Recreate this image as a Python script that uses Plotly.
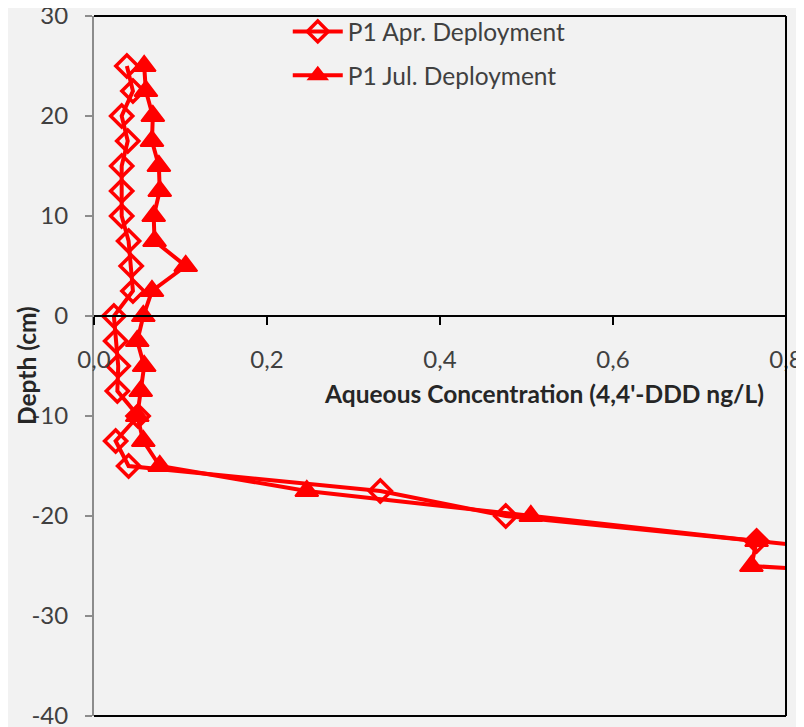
import plotly.graph_objects as go

# Depth (cm) of each sample
depth_apr = [25, 22.5, 20, 17.5, 15, 12.5, 10, 7.5, 5, 2.5, 0, -2.5, -5, -7.5, -10, -12.5, -15, -17.5, -20, -22.5, -25]
conc_apr = [0.038, 0.045, 0.032, 0.039, 0.032, 0.032, 0.032, 0.040, 0.043, 0.045, 0.023, 0.025, 0.028, 0.027,
            0.051, 0.025, 0.040, 0.331, 0.476, 0.766, 1.05]

depth_jul = [25, 22.5, 20, 17.5, 15, 12.5, 10, 7.5, 5, 2.5, 0, -2.5, -5, -7.5, -10, -12.5, -15, -17.5, -20, -22.5, -25, -27.5]
conc_jul = [0.058, 0.060, 0.068, 0.067, 0.075, 0.076, 0.069, 0.070, 0.106, 0.067, 0.057, 0.050, 0.058, 0.054,
            0.050, 0.057, 0.076, 0.246, 0.505, 0.766, 0.760, 1.25]

names = ["P1 Apr. Deployment", "P1 Jul. Deployment"]
x_title = "Aqueous Concentration (4,4'-DDD ng/L)"
y_title = "Depth (cm)"
y_tickvals = [30, 20, 10, 0, -10, -20, -30, -40]
y_ticktext = ["30", "20", "10", "0", "-10", "-20", "-30", "-40"]
x_tickvals = [0, 0.2, 0.4, 0.6, 0.8]
x_ticktext = ["0,0", "0,2", "0,4", "0,6", "0,8"]

FONT = "Lato"
RED = "#ff0000"

fig = go.Figure()
fig.add_trace(go.Scatter(
    x=conc_apr, y=depth_apr, name=names[0], mode="lines+markers", legendgroup="a",
    line=dict(color=RED, width=4),
    marker=dict(symbol="diamond-open", size=17, color=RED, line=dict(color=RED, width=3.5)),
))
fig.add_trace(go.Scatter(
    x=conc_jul, y=depth_jul, name=names[1], mode="lines+markers", legendgroup="b",
    line=dict(color=RED, width=4),
    marker=dict(symbol="triangle-up", size=20, color=RED, line=dict(color=RED, width=2)),
))

fig.update_layout(
    width=804, height=727,
    margin=dict(l=86, r=26, t=8, b=19, autoexpand=False),
    paper_bgcolor="#f2f2f2", plot_bgcolor="#f2f2f2",
    font=dict(family=FONT, size=24, color="#404040"),
    showlegend=True,
    legend=dict(x=0.280, y=1.010, xanchor="left", yanchor="top", bgcolor="rgba(0,0,0,0)",
                font=dict(family=FONT, size=24.5, color="#404040"), tracegroupgap=9, itemwidth=50),
    xaxis=dict(range=[0, 0.8], tickvals=x_tickvals, ticktext=x_ticktext, anchor="free", position=4/7,
               automargin=False, ticklabeloverflow="allow",
               showline=True, linecolor="#000000", linewidth=2, ticks="outside", ticklen=8,
               tickcolor="#000000", tickwidth=2, showgrid=False, zeroline=False,
               ticklabelstandoff=14, tickfont=dict(family=FONT, size=24, color="#404040")),
    yaxis=dict(range=[-40, 30], tickvals=y_tickvals, ticktext=y_ticktext, automargin=False,
               ticklabeloverflow="allow",
               showline=True, linecolor="#8c8c8c", linewidth=2,
               ticks="outside", ticklen=7, tickcolor="#8c8c8c", tickwidth=2, showgrid=False,
               zeroline=False, ticklabelstandoff=12, tickfont=dict(family=FONT, size=24, color="#404040")),
)

# plot-area border (top, right, bottom)
for x0, y0, x1, y1 in [(0, 1, 1, 1), (1, 0, 1, 1), (0, 0, 1, 0)]:
    fig.add_shape(type="line", xref="x domain", yref="y domain", x0=x0, y0=y0, x1=x1, y1=y1,
                  line=dict(color="#000000", width=2))

fig.add_annotation(text="<b>" + x_title + "</b>", xref="paper", yref="paper", x=0.651, y=0.4614,
                   showarrow=False, font=dict(family=FONT, size=24.5, color="#262626"))
fig.add_annotation(text="<b>" + y_title + "</b>", xref="paper", yref="paper", x=0, y=0.5, xshift=-68,
                   xanchor="center", textangle=-90, showarrow=False,
                   font=dict(family=FONT, size=24.5, color="#262626"))

fig.write_html("out.html")
